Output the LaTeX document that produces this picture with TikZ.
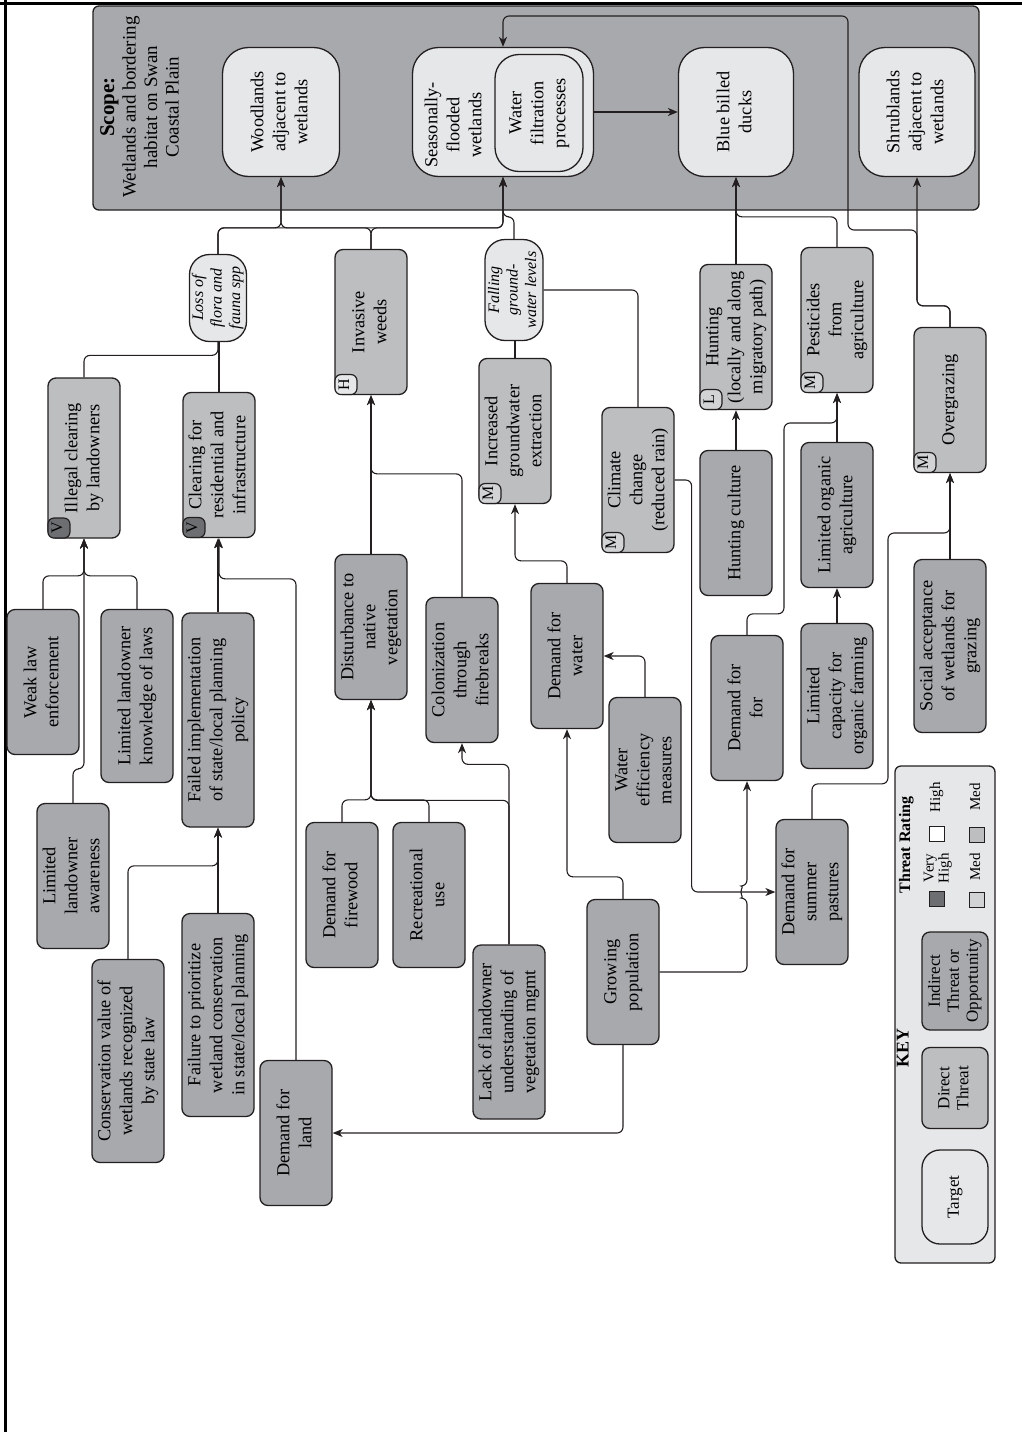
\documentclass[tikz,border=0pt]{standalone}
\usepackage{fontspec}
\setmainfont{Liberation Serif}
\usepackage{graphicx}
\usetikzlibrary{arrows.meta}

\definecolor{edgegray}{HTML}{231F20}
\definecolor{scopegray}{HTML}{A7A9AC}
\definecolor{indirgray}{HTML}{A7A9AC}
\definecolor{dirgray}{HTML}{BCBEC0}
\definecolor{targetgray}{HTML}{E6E7E8}
\definecolor{vhighgray}{HTML}{6D6E71}
\definecolor{medgray}{HTML}{D1D3D4}

% rotated, centred multi-line text
\newcommand{\rtext}[1]{\rotatebox{90}{\begin{tabular}{@{}c@{}}#1\end{tabular}}}

\tikzset{
  box/.style={draw=edgegray, line width=1.3pt, rounded corners=8pt, inner sep=0pt,
    font=\fontsize{18.3}{22}\selectfont},
  indirect/.style={box, fill=indirgray, minimum width=72pt, minimum height=145pt},
  direct/.style={box, fill=dirgray, minimum width=72pt, minimum height=145pt},
  target/.style={box, fill=targetgray, rounded corners=26pt, minimum width=117pt, minimum height=129pt},
  factor/.style={box, fill=targetgray, rounded corners=20pt, font=\fontsize{16}{18.5}\selectfont\itshape},
  badge/.style={draw=edgegray, line width=1.2pt, rounded corners=6pt, inner sep=0pt,
    minimum width=22pt, minimum height=20pt, anchor=south west, font=\fontsize{16}{16}\selectfont},
  lbl/.style={inner sep=0pt, font=\fontsize{18.3}{22}\selectfont},
  keytxt/.style={inner sep=0pt, font=\fontsize{15}{15}\selectfont},
  keysq/.style={draw=edgegray, line width=1pt, minimum size=15pt, inner sep=0pt},
  link/.style={draw=edgegray, line width=1.1pt, rounded corners=6pt},
  arr/.style={link, -{Stealth[length=10pt,width=8pt,inset=3pt]}},
}

\begin{document}
\begin{tikzpicture}[x=1pt, y=-1pt]
  \useasboundingbox (0,0) rectangle (1022,1432);

  % page frame
  \draw[line width=3pt] (0,3.5) -- (1022,3.5);
  \draw[line width=3pt] (5,0) -- (5,1432);

  % Scope
  \draw[draw=edgegray, fill=scopegray, line width=1.3pt, rounded corners=6pt] (93,6) rectangle (979,210);
  \node[lbl, font=\fontsize{19}{21.5}\selectfont] (scope) at (142,107)
    {\rtext{{\fontsize{21}{21.5}\selectfont\bfseries Scope:}\\Wetlands and bordering\\habitat on Swan\\Coastal Plain}};

  % Targets
  \node[target] (woods) at (281,112) {\rtext{Woodlands\\adjacent to\\wetlands}};
  \node[target, minimum width=181pt] (flooded) at (503,112) {};
  \node[lbl] (floodtxt) at (455,125) {\rtext{Seasonally-\\flooded\\wetlands}};
  \node[target, minimum width=88pt, minimum height=117pt, rounded corners=24pt] (filter) at (539,113)
    {\rtext{Water\\filtration\\processes}};
  \node[target, minimum width=115pt] (ducks) at (736,112) {\rtext{Blue billed\\ducks}};
  \node[target, minimum width=116pt] (shrub) at (917,112) {\rtext{Shrublands\\adjacent to\\wetlands}};

  % Contributing factors
  \node[factor, minimum width=57pt, minimum height=87pt] (loss) at (218,298) {\rtext{Loss of\\flora and\\fauna spp}};
  \node[factor, minimum width=58pt, minimum height=101pt] (fall) at (514,290) {\rtext{Falling\\ground-\\water levels}};

  % Direct threats
  \node[direct, minimum height=160pt] (illegal) at (84,458) {\rtext{Illegal clearing\\by landowners}};
  \node[direct] (clearing) at (219,465) {\rtext{Clearing for\\residential and\\infrastructure}};
  \node[direct] (weeds) at (371,322) {\rtext{Invasive\\weeds}};
  \node[direct] (extract) at (515,431) {\rtext{Increased\\groundwater\\extraction}};
  \node[direct] (climate) at (638,480) {\rtext{Climate\\change\\(reduced rain)}};
  \node[direct] (hunting) at (736,337) {\rtext{Hunting\\(locally and along\\migratory path)}};
  \node[direct] (pest) at (837,320) {\rtext{Pesticides\\from\\agriculture}};
  \node[direct] (overgr) at (950,400) {\rtext{Overgrazing}};

  \foreach \n/\l/\c in {illegal/V/vhighgray, clearing/V/vhighgray, weeds/H/targetgray,
      extract/M/medgray, climate/M/medgray, hunting/L/medgray, pest/M/medgray, overgr/M/medgray}
    \node[badge, fill=\c] at (\n.south west) {\rtext{\l}};

  % Indirect threats
  \node[indirect] (weak) at (43,682) {\rtext{Weak law\\enforcement}};
  \node[indirect] (aware) at (73,876) {\rtext{Limited\\landowner\\awareness}};
  \node[indirect, minimum height=173pt] (knowl) at (137,696) {\rtext{Limited landowner\\knowledge of laws}};
  \node[indirect, minimum height=203pt] (conserv) at (128,1061) {\rtext{Conservation value of\\wetlands recognized\\by state law}};
  \node[indirect, minimum height=214pt] (failed) at (218,720) {\rtext{Failed implementation\\of state/local planning\\policy}};
  \node[indirect, minimum height=203pt] (prior) at (218,1015) {\rtext{Failure to prioritize\\wetland conservation\\in state/local planning}};
  \node[indirect] (land) at (296,1133) {\rtext{Demand for\\land}};
  \node[indirect] (disturb) at (371,627) {\rtext{Disturbance to\\native\\vegetation}};
  \node[indirect] (firewood) at (342,895) {\rtext{Demand for\\firewood}};
  \node[indirect] (recre) at (429,895) {\rtext{Recreational\\use}};
  \node[indirect] (colon) at (462,670) {\rtext{Colonization\\through\\firebreaks}};
  \node[indirect, minimum height=174pt] (lack) at (509,1032) {\rtext{Lack of landowner\\understanding of\\vegetation mgmt}};
  \node[indirect] (water) at (567,656) {\rtext{Demand for\\water}};
  \node[indirect] (effic) at (645,770) {\rtext{Water\\efficiency\\measures}};
  \node[indirect] (popul) at (623,972) {\rtext{Growing\\population}};
  \node[indirect] (demfor) at (747,708) {\rtext{Demand for\\for}};
  \node[indirect] (summer) at (812,892) {\rtext{Demand for\\summer\\pastures}};
  \node[indirect] (huntcult) at (736,523) {\rtext{Hunting culture}};
  \node[indirect] (limorg) at (837,515) {\rtext{Limited organic\\agriculture}};
  \node[indirect] (limcap) at (837,696) {\rtext{Limited\\capacity for\\organic farming}};
  \node[indirect, minimum height=173pt] (social) at (950,646) {\rtext{Social acceptance\\of wetlands for\\grazing}};

  % Links into targets
  \draw[arr] (loss.north) -- ++(0,-26) -| (woods.south);
  \draw[arr] (loss.north) -- ++(0,-26) -| (flooded.south);
  \draw[arr] (weeds.north) -- ++(0,-21) -| (woods.south);
  \draw[arr] (weeds.north) -- ++(0,-21) -| (flooded.south);
  \draw[arr] (fall.north) -- ++(0,-22) -| (flooded.south);
  \draw[arr] (flooded.east) -- (ducks.west);
  \draw[arr] (hunting.north) -- (ducks.south);
  \draw[arr] (pest.north) -- ++(0,-30) -| (ducks.south);
  \draw[arr] (overgr.north) -- ++(0,-21) -| (shrub.south);
  \draw[arr] (overgr.north) -- ++(0,-21) -| (917,230) -| (848,16) -| (flooded.north);

  % Links into factors
  \draw[link] (illegal.north) -- ++(0,-22) -| (loss.south);
  \draw[link] (clearing.north) -- (clearing.north |- loss.south);
  \draw[link] (extract.north) -- (extract.north |- fall.south);
  \draw[link] (climate.north) |- (fall.east);

  % Links between threats
  \draw[arr] (climate.east) -- ++(17,0) |- (summer.west);
  \draw[arr] (huntcult.north) -- (hunting.south);
  \draw[arr] (limorg.north) -- (pest.south);
  \draw[arr] (demfor.north) -- ++(0,-21) -| (784,423) -| (pest.south);
  \draw[arr] (limcap.north) -- (limorg.south);
  \draw[arr] (social.north) -- (overgr.south);
  \draw[arr] (summer.north) -- ++(0,-35) -| (888,533) -| (overgr.south);
  \draw[arr] (weak.north) -- ++(0,-33) -| (illegal.south);
  \draw[arr] (knowl.north) -- ++(0,-33) -| (illegal.south);
  \draw[arr] (aware.north) -- ++(0,-34) -| (illegal.south);
  \draw[arr] (failed.north) -- (failed.north |- clearing.south);
  \draw[arr] (land.north) -- ++(0,-481) -| (clearing.south);
  \draw[arr] (prior.north) -- (failed.south);
  \draw[arr] (conserv.north) -- ++(0,-93) -| (failed.south);
  \draw[arr] (disturb.north) -- (weeds.south);
  \draw[arr] (colon.north) -- ++(0,-123) -| (weeds.south);
  \draw[arr] (firewood.north) -- ++(0,-22) -| (disturb.south);
  \draw[arr] (recre.north) -- ++(0,-22) -| (disturb.south);
  \draw[arr] (lack.north) -- ++(0,-144) -| (disturb.south);
  \draw[arr] (lack.north) -- ++(0,-180) -| (colon.south);
  \draw[arr] (water.north) -- ++(0,-22) -| (extract.south);
  \draw[arr] (effic.north) |- (water.east);
  \draw[arr] (popul.north) -- ++(0,-22) -| (water.south);
  % hop over the climate line
  \draw[arr] (popul.east) -- (popul.east -| demfor.south) -- ++(0,-74)
    arc[start angle=90, end angle=270, radius=6] -- (demfor.south);
  \draw[arr] (popul.south) |- (land.east);

  % Key
  \draw[draw=edgegray, fill=targetgray, line width=1.3pt, rounded corners=6pt] (895,766) rectangle (995,1263);
  \node[inner sep=0pt, font=\fontsize{16}{16}\selectfont\bfseries] (rating) at (907,845) {\rtext{Threat Rating}};
  \node[keysq, fill=vhighgray] (sqvh) at (937,899) {};
  \node[keytxt] (txvh) at (938,868) {\rtext{Very\\High}};
  \node[keysq, fill=white] (sqh) at (937,834) {};
  \node[keytxt] (txh) at (937,797) {\rtext{High}};
  \node[keysq, fill=medgray] (sqm) at (977,900) {};
  \node[keytxt] (txm) at (977,867) {\rtext{Med}};
  \node[keysq, fill=dirgray] (sqm2) at (977,835) {};
  \node[keytxt] (txm2) at (977,797) {\rtext{Med}};
  \node[inner sep=0pt, font=\fontsize{18}{18}\selectfont\bfseries] (keyttl) at (905,1048) {\rtext{KEY}};
  \node[indirect, minimum width=66pt, minimum height=98pt, font=\fontsize{17}{19}\selectfont] (keyind) at (955,981)
    {\rtext{Indirect\\Threat or\\Opportunity}};
  \node[direct, minimum width=66pt, minimum height=81pt, font=\fontsize{17}{19}\selectfont] (keydir) at (955,1088)
    {\rtext{Direct\\Threat}};
  \node[target, minimum width=66pt, minimum height=94pt, rounded corners=18pt, font=\fontsize{17}{19}\selectfont] (keytgt)
    at (955,1197) {\rtext{Target}};
\end{tikzpicture}
\end{document}
